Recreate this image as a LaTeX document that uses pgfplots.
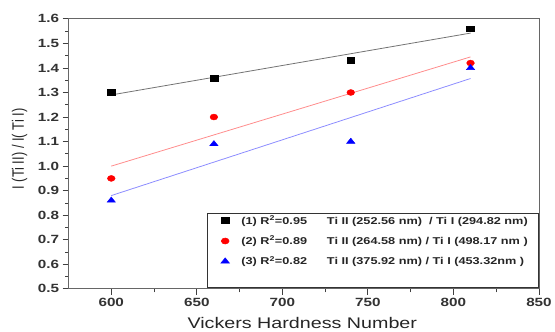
\documentclass[border=0pt]{standalone}
\usepackage{pgfplots}
\pgfplotsset{compat=1.18}
\usepackage{fontspec}
\setmainfont[FakeStretch=1.28]{Liberation Sans}
\newfontfamily\ylfont{Liberation Sans}
\begin{document}
\begin{tikzpicture}
\begin{axis}[
  scale only axis, width=474pt, height=272pt,
  xmin=575, xmax=850, ymin=0.5, ymax=1.6,
  xtick={600,650,...,850}, ytick={0.5,0.6,...,1.6},
  minor x tick num=1, minor y tick num=1,
  tick align=outside, tick pos=left,
  major tick length=6pt, minor tick length=3.5pt,
  axis line style={black!60, line width=0.8pt},
  every tick/.style={black!75, line width=0.8pt},
  /pgf/number format/assume math mode=true,
  ticklabel style={font=\fontsize{12}{14}\selectfont\bfseries, text=black!80},
  yticklabel style={/pgf/number format/.cd, fixed, fixed zerofill, precision=1},
  xticklabel style={/pgf/number format/.cd, fixed, precision=0, set thousands separator={}},
  xlabel={Vickers Hardness Number},
  ylabel={\scalebox{1}[1.28]{I (Ti II) / I( Ti I)}},
  xlabel style={font=\fontsize{15.5}{17}\selectfont, text=black!85,
    at={(axis description cs:0.497,-0.125)}, anchor=center},
  ylabel style={font=\ylfont\fontsize{13}{15}\selectfont, text=black!85,
    at={(axis description cs:-0.104,0.518)}, anchor=center},
  legend style={at={(1,0.005)}, anchor=south east, draw=black!80, line width=0.6pt,
    font=\fontsize{10}{12}\selectfont\bfseries, text=black!85,
    row sep=6.5pt, inner xsep=9pt, inner ysep=0pt, column sep=10pt},
  legend cell align=left,
]
% linear fit lines
\addplot[black!55, line width=0.8pt, forget plot] coordinates {(600,1.290) (810,1.542)};
\addplot[red!45, line width=0.8pt, forget plot] coordinates {(600,1.000) (810,1.445)};
\addplot[blue!45, line width=0.8pt, forget plot] coordinates {(600,0.880) (810,1.357)};
% data
\addplot[only marks, mark=square*, mark size=3pt, black, mark options={xscale=1.3}] coordinates {(600,1.30) (660,1.36) (740,1.43) (810,1.56)};
\addlegendentry{(1) R\textsuperscript{2}=0.95\hspace{20pt}Ti II (252.56 nm)\ \ / Ti I (294.82 nm)}
\addplot[only marks, mark=*, mark size=3pt, red, mark options={xscale=1.3}] coordinates {(600,0.95) (660,1.20) (740,1.30) (810,1.42)};
\addlegendentry{(2) R\textsuperscript{2}=0.89\hspace{20pt}Ti II (264.58 nm) / Ti I (498.17 nm )}
\addplot[only marks, mark=triangle*, mark size=3.5pt, blue, mark options={xscale=1.4}] coordinates {(600,0.86) (660,1.09) (740,1.10) (810,1.40)};
\addlegendentry{(3) R\textsuperscript{2}=0.82\hspace{20pt}Ti II (375.92 nm) / Ti I (453.32nm )}
\addlegendimage{empty legend}
\addlegendentry{\rule{0pt}{7pt}}
\end{axis}
\path ([xshift=-69pt,yshift=19pt]current axis.north west);
\path ([xshift=12pt,yshift=-42pt]current axis.south east);
\end{tikzpicture}
\end{document}
